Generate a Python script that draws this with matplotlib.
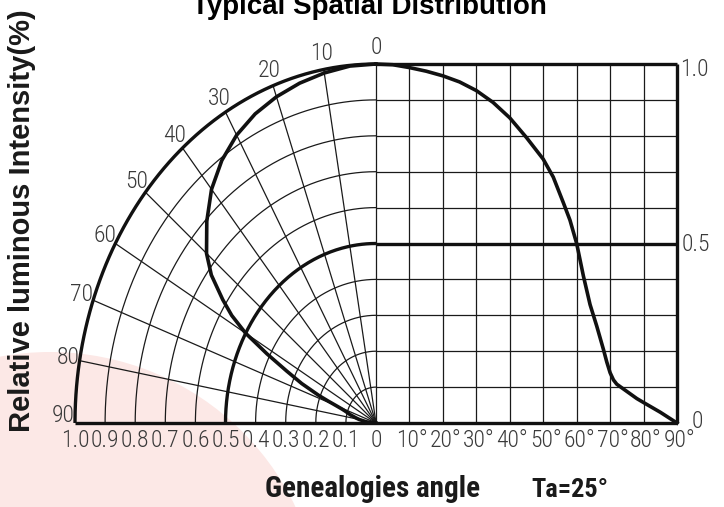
import numpy as np
import matplotlib
matplotlib.use("Agg")
import matplotlib.pyplot as plt
from matplotlib.patches import Ellipse

# Relative luminous intensity vs angle
angles = [0, 5, 10, 15, 20, 25, 30, 35, 40, 45, 50, 53, 56, 58, 60, 62, 64, 66,
          68, 69, 70, 71, 72, 75, 78, 80, 85, 90]
intensity = [1.0, 0.998, 0.99, 0.98, 0.967, 0.95, 0.926, 0.893, 0.85, 0.795, 0.735,
             0.685, 0.614, 0.565, 0.50, 0.41, 0.33, 0.27, 0.205, 0.17, 0.14, 0.12,
             0.108, 0.088, 0.068, 0.057, 0.03, 0.0]

radial_ticks = [1.0, 0.9, 0.8, 0.7, 0.6, 0.5, 0.4, 0.3, 0.2, 0.1, 0]
radial_labels = ["1.0", "0.9", "0.8", "0.7", "0.6", "0.5", "0.4", "0.3", "0.2", "0.1", "0"]
angle_ticks = [10, 20, 30, 40, 50, 60, 70, 80, 90]
angle_labels = ["10°", "20°", "30°", "40°", "50°", "60°", "70°", "80°", "90°"]
polar_ticks = [0, 10, 20, 30, 40, 50, 60, 70, 80, 90]
right_ticks = [1.0, 0.5, 0]
right_labels = ["1.0", "0.5", "0"]

W, H = 724, 507
fig = plt.figure(figsize=(W / 100, H / 100), dpi=100)

# faint pink watermark blob in the lower left corner
fig.add_artist(Ellipse((50 / W, (H - 624) / H), 2 * 272 / W, 2 * 272 / H,
                       transform=fig.transFigure, color="#fce8e6", zorder=-1, lw=0))

# axes: x -1..1 (left = polar, right = angle/90), y 0..1
ax = fig.add_axes([75 / W, (H - 423) / H, 602 / W, 359 / H])
ax.set_xlim(-1, 1)
ax.set_ylim(0, 1)
ax.set_facecolor("none")
ax.axis("off")

thin = dict(color="#1a1a1a", lw=0.9, solid_capstyle="butt", clip_on=False)
thick = dict(color="#111111", lw=2.4, solid_capstyle="butt", clip_on=False)

# polar grid
t = np.radians(np.linspace(0, 90, 200))
for r in np.arange(0.1, 1.0, 0.1):
    if abs(r - 0.5) < 1e-6:
        continue
    ax.plot(-r * np.sin(t), r * np.cos(t), **thin)
for a in polar_ticks[:-1]:
    ar = np.radians(a)
    ax.plot([0, -np.sin(ar)], [0, np.cos(ar)], **thin)
ax.plot(-0.5 * np.sin(t), 0.5 * np.cos(t), **thick)
ax.plot(-np.sin(t), np.cos(t), **thick)

# rectangular grid
for a in angle_ticks[:-1]:
    ax.plot([a / 90, a / 90], [0, 1], **thin)
for v in np.arange(0.1, 1.0, 0.1):
    ax.plot([0, 1], [v, v], **thin)
ax.plot([0, 1], [0.5, 0.5], **thick)
ax.plot([0, 1], [1, 1], **thick)
ax.plot([1, 1], [0, 1], **thick)
ax.plot([-1, 1], [0, 0], **thick)

# curves
ang = np.radians(angles)
inten = np.array(intensity)
ax.plot(-inten * np.sin(ang), inten * np.cos(ang), color="#111111", lw=2.6, clip_on=False)
ax.plot(np.array(angles) / 90, inten, color="#111111", lw=2.6, clip_on=False)

# labels (thin narrow CAD-like font)
lab = dict(family=["Roboto Condensed", "DejaVu Sans"], fontsize=17,
           color="#3a3a3a", fontweight="light")
for a in polar_ticks:
    ar = np.radians(a)
    ax.text(-1.04 * np.sin(ar), 1.045 * np.cos(ar) + (0.022 if a == 90 else 0), str(a),
            ha="center", va="center", **lab)
for v, s in zip(radial_ticks, radial_labels):
    ax.text(-v, -0.05, s, ha="center", va="center", **lab)
for a, s in zip(angle_ticks, angle_labels):
    ax.text(a / 90 + 0.008, -0.05, s, ha="center", va="center", **lab)
ax.text(1.01, 0.985, right_labels[0], ha="left", va="center", **lab)
ax.text(1.015, 0.496, right_labels[1], ha="left", va="center", **lab)
ax.text(1.068, 0.004, right_labels[2], ha="center", va="center", **lab)

fig.text(369 / W, (H - 14) / H, "Typical Spatial Distribution", ha="center",
         va="baseline", fontsize=20, fontweight="bold", family="Liberation Sans")
fig.text(22 / W, (H - 221) / H, "Relative luminous Intensity(%)", rotation=90,
         ha="center", va="center", fontsize=21, fontweight="bold", family="Liberation Sans",
         color="#1a1a1a")
fig.text(265 / W, (H - 497) / H, "Genealogies angle", ha="left", va="baseline",
         fontsize=21, fontweight="bold", family=["Roboto Condensed", "Liberation Sans"],
         color="#1a1a1a")
fig.text(531 / W, (H - 497) / H, "Ta=25°", ha="left", va="baseline",
         fontsize=19, fontweight="bold", family=["Roboto Condensed", "Liberation Sans"],
         color="#1a1a1a")

fig.savefig("out.png", dpi=100)
